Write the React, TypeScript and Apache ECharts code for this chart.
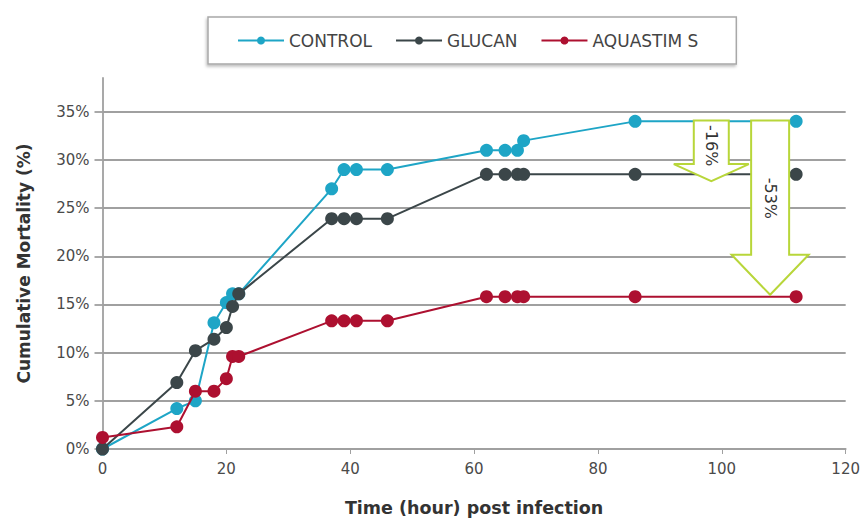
import React, { useEffect, useRef } from "react";
import * as echarts from "echarts";

// ---- Data ----
const hours = [0, 12, 15, 18, 20, 21, 22, 37, 39, 41, 46, 62, 65, 67, 68, 86, 112];
const control = [0, 4.2, 5, 13.1, 15.2, 16.1, 16.1, 27, 29, 29, 29, 31, 31, 31, 32, 34, 34];
const glucan = [0, 6.9, 10.2, 11.4, 12.6, 14.8, 16.1, 23.9, 23.9, 23.9, 23.9, 28.5, 28.5, 28.5, 28.5, 28.5, 28.5];
const aquastim = [1.2, 2.3, 6, 6, 7.3, 9.6, 9.6, 13.3, 13.3, 13.3, 13.3, 15.8, 15.8, 15.8, 15.8, 15.8, 15.8];

const seriesNames = ["CONTROL", "GLUCAN", "AQUASTIM S"];
const seriesColors = ["#1ea5c6", "#3b4649", "#ad1030"];

const yTicks = [0, 5, 10, 15, 20, 25, 30, 35];
const xTicks = [0, 20, 40, 60, 80, 100, 120];

// Reduction arrows: x (hour), top (%), tip (%), label
const arrowX = [98.3, 107.8];
const arrowTop = [34.1, 34.1];
const arrowTip = [27.8, 16.0];
const arrowLabels = ["-16%", "-53%"];

const FONT = "'DejaVu Sans', Verdana, sans-serif";

export default function App() {
  const ref = useRef<HTMLDivElement>(null);

  useEffect(() => {
    if (!ref.current) return;
    const chart = echarts.init(ref.current, undefined, { renderer: "svg" });

    const mk = (vals: number[]) => hours.map((h, i) => [h, vals[i]]);
    const allVals = [control, glucan, aquastim];

    const lineSeries = seriesNames.map((name, i) => ({
      name,
      type: "line",
      data: mk(allVals[i]),
      symbol: "circle",
      symbolSize: 13,
      showSymbol: true,
      lineStyle: { color: seriesColors[i], width: 2 },
      itemStyle: { color: seriesColors[i] },
      z: 3 + i,
    }));

    const arrowData = arrowX.map((x, i) => [x, arrowTop[i], arrowTip[i], arrowLabels[i]]);
    const shaftHalf = [17.5, 19];
    const headHalf = [37.5, 38.5];
    const headH = [17, 40];

    const arrowSeries = {
      type: "custom",
      name: "arrows",
      silent: true,
      z: 10,
      data: arrowData,
      renderItem: (params: any, api: any) => {
        const idx = params.dataIndex;
        const top = api.coord([api.value(0), api.value(1)]);
        const tip = api.coord([api.value(0), api.value(2)]);
        const cx = top[0];
        const sh = shaftHalf[idx];
        const hh = headHalf[idx];
        const baseY = tip[1] - headH[idx];
        const pts = [
          [cx - sh, top[1]],
          [cx + sh, top[1]],
          [cx + sh, baseY],
          [cx + hh, baseY],
          [cx, tip[1]],
          [cx - hh, baseY],
          [cx - sh, baseY],
        ];
        const ty = top[1] + (baseY - top[1]) * 0.58;
        return {
          type: "group",
          children: [
            {
              type: "polygon",
              shape: { points: pts },
              style: { fill: "#ffffff", stroke: "#b8d63a", lineWidth: 2 },
            },
            {
              type: "text",
              x: cx,
              y: ty,
              rotation: -Math.PI / 2,
              style: {
                text: arrowLabels[idx],
                fill: "#333333",
                font: `16px ${FONT}`,
                align: "center",
                verticalAlign: "middle",
              },
            },
          ],
        };
      },
    };

    chart.setOption({
      animation: false,
      backgroundColor: "#ffffff",
      legend: {
        data: seriesNames,
        left: 208,
        top: 17,
        padding: [15, 38, 15, 29],
        itemGap: 23,
        itemWidth: 46,
        itemHeight: 10,
        borderColor: "#a8a8a8",
        borderWidth: 1.5,
        shadowBlur: 3,
        shadowColor: "rgba(0,0,0,0.25)",
        shadowOffsetX: -1,
        shadowOffsetY: 2,
        backgroundColor: "#ffffff",
        textStyle: { fontFamily: FONT, fontSize: 17, color: "#444444" },
      },
      grid: { left: 102.5, right: 16, top: 78, bottom: 75 },
      xAxis: {
        type: "value",
        min: 0,
        max: 120,
        interval: 20,
        name: "Time (hour) post infection",
        nameLocation: "middle",
        nameGap: 50,
        nameTextStyle: { fontFamily: FONT, fontSize: 17.5, fontWeight: "bold", color: "#333333" },
        axisLine: { show: true, lineStyle: { color: "#a0a0a0", width: 1.8 } },
        axisTick: { show: true, length: 5, lineStyle: { color: "#a0a0a0" } },
        axisLabel: {
          margin: 12,
          fontFamily: FONT,
          fontSize: 15,
          color: "#4a4a4a",
          customValues: xTicks,
        },
        splitLine: { show: false },
      },
      yAxis: {
        type: "value",
        min: 0,
        max: 38.5,
        interval: 5,
        name: "Cumulative Mortality (%)",
        nameLocation: "middle",
        nameGap: 70,
        nameTextStyle: { fontFamily: FONT, fontSize: 17, fontWeight: "bold", color: "#333333" },
        axisLine: { show: true, lineStyle: { color: "#a0a0a0", width: 1.8 } },
        axisTick: {
          show: true,
          length: 8,
          lineStyle: { color: "#a0a0a0", width: 1.8 },
          customValues: yTicks,
        },
        axisLabel: {
          margin: 13,
          fontFamily: FONT,
          fontSize: 15,
          color: "#4a4a4a",
          formatter: (v: number) => `${v}%`,
          customValues: yTicks,
        },
        splitLine: { show: true, lineStyle: { color: "#a0a0a0", width: 1.8 } },
      },
      series: [...lineSeries, arrowSeries],
    });

    return () => chart.dispose();
  }, []);

  return <div ref={ref} style={{ width: 863, height: 524, position: "absolute", left: 0, top: 0 }} />;
}
